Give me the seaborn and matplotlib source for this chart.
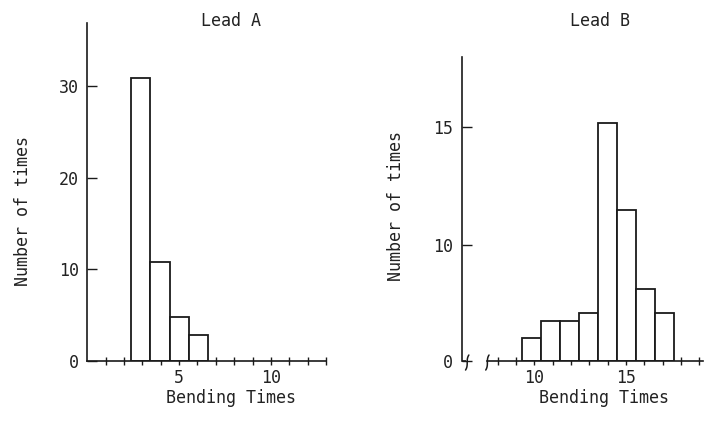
import numpy as np
import matplotlib
matplotlib.use("Agg")
import matplotlib.pyplot as plt
import seaborn as sns

# ---- data ----
edges_a = [2.38, 3.43, 4.48, 5.53, 6.57]
counts_a = [30.9, 10.8, 4.8, 2.8]
edges_b = [9.35, 10.37, 11.4, 12.43, 13.46, 14.5, 15.53, 16.57, 17.6]
counts_b = [2.0, 3.4, 3.4, 4.1, 15.2, 11.5, 6.2, 4.1]
xticks_a = [5, 10]
xminor_a = list(range(1, 14))
yticks_a = [0, 10, 20, 30]
xticks_b = [10, 15]
xminor_b = list(range(8, 20))
yticks_b = [0, 10, 15]
titles = ["Lead A", "Lead B"]
xlabel = "Bending Times"
ylabel = "Number of times"

sns.set_style("ticks")
plt.rcParams["font.family"] = ["DejaVu Sans Mono", "DejaVu Sans"]
plt.rcParams["font.size"] = 12
TXT = "#222222"
LC = "#1a1a1a"

fig = plt.figure(figsize=(7.04, 4.21), dpi=100)
W, H = 704, 421
ax_a = fig.add_axes([87.3 / W, (H - 361) / H, 238.7 / W, 338 / H])
ax_b = fig.add_axes([461.7 / W, (H - 360.7) / H, 241.3 / W, 303.7 / H])

def centers(e):
    e = np.asarray(e)
    return (e[:-1] + e[1:]) / 2

# Lead B broken y scale (0-10 compressed)
K = 2.03
def fwd(y):
    y = np.asarray(y, dtype=float)
    return np.where(y <= 10, y, 10 + (y - 10) * K)
def inv(z):
    z = np.asarray(z, dtype=float)
    return np.where(z <= 10, z, 10 + (z - 10) / K)

for ax, edges, counts in [(ax_a, edges_a, counts_a), (ax_b, edges_b, counts_b)]:
    sns.histplot(x=centers(edges), weights=counts, bins=edges, stat="count",
                 color="white", edgecolor=LC, linewidth=1.3, alpha=1, ax=ax)

ax_b.set_yscale("function", functions=(fwd, inv))

ax_a.set_xlim(0, 13)
ax_a.set_ylim(0, 36.9)
ax_b.set_xlim(6.04, 19.2)
ax_b.set_ylim(0, 18)

for ax, xt, xm, yt in [(ax_a, xticks_a, xminor_a, yticks_a), (ax_b, xticks_b, xminor_b, yticks_b)]:
    ax.set_xticks(xt)
    ax.set_xticks(xm, minor=True)
    ax.set_yticks(yt)
    ax.set_yticklabels([str(v) for v in yt])
    ax.set_xticklabels([str(v) for v in xt])
    ax.tick_params(axis="x", which="both", direction="inout", length=6, width=1,
                   color=LC, pad=3, labelsize=12, labelcolor=TXT)
    ax.tick_params(axis="y", which="both", direction="in", length=7, width=1,
                   color=LC, pad=6, labelsize=12, labelcolor=TXT)
    ax.tick_params(axis="y", which="minor", length=0)
    for s in ["top", "right"]:
        ax.spines[s].set_visible(False)
    for s in ["left", "bottom"]:
        ax.spines[s].set_color(LC)
        ax.spines[s].set_linewidth(1.2)
    ax.set_xlabel(xlabel, fontsize=12, color=TXT)
    ax.set_ylabel(ylabel, fontsize=12, color=TXT)

# label / title positions
ax_a.xaxis.set_label_coords(0.602, -0.082)
ax_b.xaxis.set_label_coords(0.59, -0.092)
ax_a.yaxis.set_label_coords(-0.232, 0.444)
ax_b.yaxis.set_label_coords(-0.235, 0.509)
ax_a.set_title(titles[0], x=0.602, y=0.99, pad=0, fontsize=12, color=TXT)
ax_b.set_title(titles[1], x=0.573, y=1.102, pad=0, fontsize=12, color=TXT)

# broken x-axis for Lead B
ax_b.spines["bottom"].set_bounds(7.44, 19.2)
tr = ax_b.get_xaxis_transform()
ax_b.plot([6.04, 6.3], [0, 0], color=LC, lw=1.2, transform=tr, clip_on=False,
          solid_capstyle="butt")
t = np.linspace(-1, 1, 40)
for xc in [6.34, 7.44]:
    xs = xc + 0.09 * np.sign(t) * np.abs(t) ** 3
    ys = t * 7.5 / 303.7 - 0.006
    ax_b.plot(xs, ys, color=LC, lw=1.1, transform=tr, clip_on=False)

fig.savefig("out.png", dpi=100)
